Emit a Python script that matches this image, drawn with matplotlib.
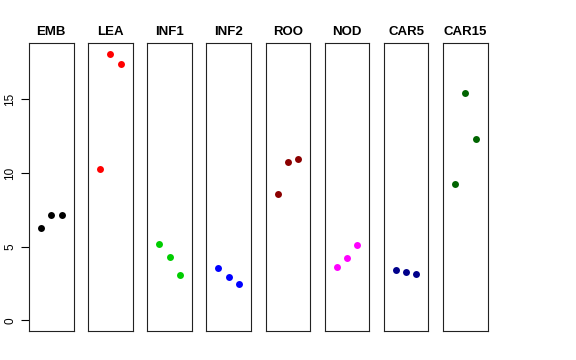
import matplotlib
matplotlib.use("Agg")
import matplotlib.pyplot as plt

plt.rcParams['font.family'] = ['Liberation Sans', 'DejaVu Sans']

stages = ["EMB", "LEA", "INF1", "INF2", "ROO", "NOD", "CAR5", "CAR15"]
colors = ["black", "red", "#00CD00", "blue", "#8B0000", "magenta", "#00008B", "#006400"]
reps = [1, 2, 3]
values = [
    [6.3, 7.15, 7.15],
    [10.3, 18.1, 17.4],
    [5.15, 4.3, 3.05],
    [3.55, 2.95, 2.45],
    [8.6, 10.75, 10.95],
    [3.6, 4.2, 5.1],
    [3.45, 3.3, 3.15],
    [9.25, 15.45, 12.3],
]

ymax = max(max(v) for v in values)
fig = plt.figure(figsize=(5.76, 3.6), dpi=100)

left0, step, w = 29 / 576, 59.15 / 576, 44.5 / 576
bottom, h = 1 - 331 / 360, 288 / 360

for i, (name, col, vals) in enumerate(zip(stages, colors, values)):
    ax = fig.add_axes([left0 + i * step, bottom, w, h])
    ax.plot(reps, vals, 'o', color=col, ms=5, mec='none')
    ax.set_xlim(-0.16, 4.16)
    ax.set_ylim(-0.04 * ymax, ymax * 1.04)
    ax.set_xticks([])
    for s in ax.spines.values():
        s.set_linewidth(0.8)
        s.set_color('#222222')
    ax.set_title(name, fontsize=9.5, fontweight='bold', pad=6)
    if i == 0:
        ax.set_yticks([0, 5, 10, 15])
        ax.tick_params(axis='y', length=6, width=0.8, labelsize=8.5, pad=3)
        for lab in ax.get_yticklabels():
            lab.set_rotation(90)
            lab.set_va('center')
    else:
        ax.set_yticks([])

fig.savefig("out.png", dpi=100)
